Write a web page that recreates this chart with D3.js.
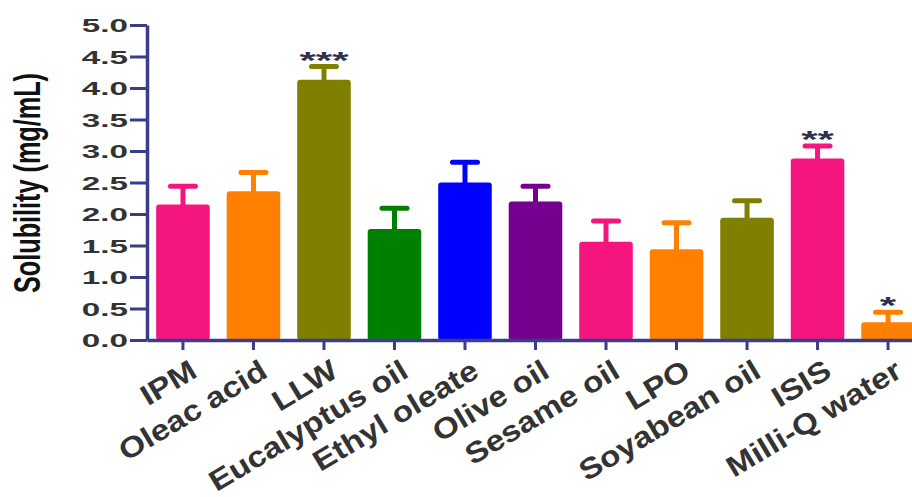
<!DOCTYPE html>
<html>
<head>
<meta charset="utf-8">
<script src="https://cdn.jsdelivr.net/npm/d3@7"></script>
<style>
  html, body { margin: 0; padding: 0; background: #fff; }
  svg { display: block; }
  text { font-family: Arial, "Liberation Sans", Helvetica, sans-serif; font-weight: bold; }
</style>
</head>
<body>
<svg id="chart" width="912" height="497"></svg>
<script>
// Solubility of the drug in each vehicle (mean ± SD, mg/mL)
const categories = ["IPM", "Oleac acid", "LLW", "Eucalyptus oil", "Ethyl oleate", "Olive oil",
                    "Sesame oil", "LPO", "Soyabean oil", "ISIS", "Milli-Q water"];
const means = [2.15, 2.36, 4.13, 1.76, 2.50, 2.20, 1.56, 1.44, 1.94, 2.88, 0.28];
const sds   = [0.29, 0.30, 0.21, 0.33, 0.32, 0.24, 0.33, 0.42, 0.27, 0.20, 0.16];
const marks = ["", "", "***", "", "", "", "", "", "", "**", "*"];
const barColors = ["#f5157f", "#ff8000", "#808000", "#008000", "#0000ff", "#73008f",
                   "#f5157f", "#ff8000", "#808000", "#f5157f", "#ff8000"];
const yTicks = [0, 0.5, 1, 1.5, 2, 2.5, 3, 3.5, 4, 4.5, 5];

const axisColor = "#3b3d8c";
const textColor = "#333333";
const sx = 1.75; // horizontal widening of the axis lettering

const svg = d3.select("#chart");

const x = d3.scaleBand()
  .domain(categories)
  .range([147, 924])
  .paddingInner(0.24)
  .paddingOuter(0.13);

const y = d3.scaleLinear().domain([0, 5]).range([340, 25]);

const rows = categories.map((c, i) => ({ c, m: means[i], sd: sds[i], mark: marks[i], color: barColors[i] }));

// bars
svg.append("g").selectAll("rect")
  .data(rows)
  .join("rect")
  .attr("x", d => x(d.c))
  .attr("width", x.bandwidth())
  .attr("y", d => y(d.m))
  .attr("height", d => y(0) - y(d.m))
  .attr("rx", 3)
  .attr("fill", d => d.color);

// error bars (upper half only)
const err = svg.append("g").selectAll("g").data(rows).join("g")
  .attr("transform", d => `translate(${x(d.c) + x.bandwidth() / 2},0)`);
err.append("line")
  .attr("y1", d => y(d.m) + 1)
  .attr("y2", d => y(d.m + d.sd))
  .attr("stroke", d => d.color)
  .attr("stroke-width", 5);
err.append("line")
  .attr("x1", -12.5).attr("x2", 12.5)
  .attr("y1", d => y(d.m + d.sd))
  .attr("y2", d => y(d.m + d.sd))
  .attr("stroke", d => d.color)
  .attr("stroke-width", 5)
  .attr("stroke-linecap", "round");

// significance stars
svg.append("g").selectAll("text")
  .data(rows.filter(d => d.mark))
  .join("text")
  .attr("transform", d => `translate(${x(d.c) + x.bandwidth() / 2},${y(d.m + d.sd) + 2}) scale(${sx},1)`)
  .attr("text-anchor", "middle")
  .attr("font-size", 24)
  .attr("font-weight", "normal")
  .attr("fill", "#2e3050")
  .text(d => d.mark);

// y axis
const yAxis = svg.append("g")
  .attr("transform", "translate(147,0)")
  .call(d3.axisLeft(y).tickValues(yTicks).tickFormat(d3.format(".1f")).tickSize(17).tickSizeOuter(0).tickPadding(2));
yAxis.select(".domain").attr("stroke", axisColor).attr("stroke-width", 3.5);
yAxis.selectAll(".tick line").attr("stroke", axisColor).attr("stroke-width", 3);
yAxis.selectAll(".tick text")
  .attr("x", 0)
  .attr("dy", "0.36em")
  .attr("transform", `translate(-19,0) scale(${sx},1)`)
  .attr("font-size", 19)
  .attr("fill", textColor);

// x axis
const xAxis = svg.append("g")
  .attr("transform", "translate(0,340)")
  .call(d3.axisBottom(x).tickSize(10).tickSizeOuter(0).tickFormat(""));
xAxis.select(".domain").attr("stroke", axisColor).attr("stroke-width", 3.5);
xAxis.selectAll(".tick line").attr("stroke", axisColor).attr("stroke-width", 3);

// category labels, slanted; anchored at the top-right corner of the text
svg.append("g").selectAll("text")
  .data(categories)
  .join("text")
  .attr("transform", d => `translate(${x(d) + x.bandwidth() / 2 + 5},358) rotate(-31) scale(1.15,1)`)
  .attr("text-anchor", "end")
  .attr("dy", "0.72em")
  .attr("font-size", 29)
  .attr("fill", textColor)
  .text(d => d);

// y axis title
svg.append("text")
  .attr("transform", `translate(40,183) scale(${sx},1) rotate(-90)`)
  .attr("text-anchor", "middle")
  .attr("font-size", 21)
  .attr("textLength", 220)
  .attr("lengthAdjust", "spacingAndGlyphs")
  .attr("fill", "#111")
  .text("Solubility (mg/mL)");
</script>
</body>
</html>
